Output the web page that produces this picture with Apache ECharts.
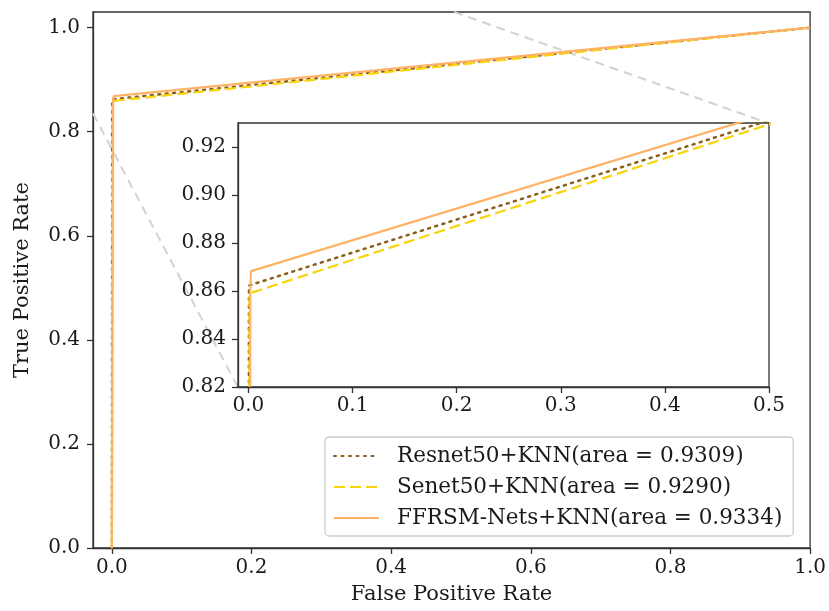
<!DOCTYPE html>
<html>
<head>
<meta charset="utf-8">
<script src="https://cdn.jsdelivr.net/npm/echarts@6/dist/echarts.min.js"></script>
<style>html,body{margin:0;padding:0;background:#fff;}#c{width:829px;height:611px;}</style>
</head>
<body>
<div id="c"></div>
<script>
const seriesNames = ['Resnet50+KNN(area = 0.9309)', 'Senet50+KNN(area = 0.9290)', 'FFRSM-Nets+KNN(area = 0.9334)'];
const fprResnet = [0, 0.0005, 1];
const tprResnet = [0, 0.8623, 1];
const fprSenet = [0, 0.001, 1];
const tprSenet = [0, 0.859, 1];
const fprFfrsm = [0, 0.0018, 0.0025, 1];
const tprFfrsm = [0, 0.86, 0.8683, 1];
const mainXTicks = [0, 0.2, 0.4, 0.6, 0.8, 1.0];
const mainYTicks = [0, 0.2, 0.4, 0.6, 0.8, 1.0];
const insetXTicks = [0, 0.1, 0.2, 0.3, 0.4, 0.5];
const insetYTicks = [0.82, 0.84, 0.86, 0.88, 0.90, 0.92];
// connector lines (main data coords)
const connA = [[-0.027, 0.835], [0.1805, 0.309]];
const connB = [[0.49, 1.03], [0.941, 0.816]];

const FONT = 'DejaVu Serif';
const colors = ['#8B5E1A', '#F7D40C', '#FFB266'];
const styles = [
  {type: [2, 5.5], width: 2.5, cap: 'round'},
  {type: [11, 5], width: 2.2},
  {type: 'solid', width: 2.2}
];
function zip(a, b) { return a.map((v, i) => [v, b[i]]); }
const datasets = [zip(fprResnet, tprResnet), zip(fprSenet, tprSenet), zip(fprFfrsm, tprFfrsm)];

function axisCommon(ticks, dec, margin) {
  return {
    axisLine: {show: true, onZero: false, lineStyle: {color: '#333', width: 1.3}},
    axisTick: {show: true, inside: false, length: 6, customValues: ticks, lineStyle: {color: '#333', width: 1.3}},
    axisLabel: {customValues: ticks, formatter: v => v.toFixed(dec), fontFamily: FONT, fontSize: 20, color: '#1a1a1a', margin: margin},
    splitLine: {show: false}
  };
}

const series = [];
datasets.forEach((d, i) => {
  series.push({
    name: seriesNames[i], type: 'line', data: d, xAxisIndex: 0, yAxisIndex: 0,
    symbol: 'none', color: colors[i], z: 2 + i * 0.1,
    lineStyle: {color: colors[i], type: styles[i].type, width: styles[i].width, cap: styles[i].cap || 'butt'},
    animation: false
  });
});
[connA, connB].forEach(c => {
  series.push({
    type: 'line', data: c, xAxisIndex: 0, yAxisIndex: 0, symbol: 'none', z: 1.5,
    lineStyle: {color: '#d3d3d3', type: [9, 6], width: 2}, animation: false, silent: true
  });
});
datasets.forEach((d, i) => {
  series.push({
    name: seriesNames[i], type: 'line', data: d, xAxisIndex: 1, yAxisIndex: 1,
    symbol: 'none', color: colors[i], z: 12 + i * 0.1, clip: true,
    lineStyle: {color: colors[i], type: styles[i].type, width: styles[i].width, cap: styles[i].cap || 'butt'},
    animation: false
  });
});

const option = {
  backgroundColor: '#fff',
  animation: false,
  grid: [
    {left: 93, top: 12, width: 718, height: 536, show: true, borderColor: '#333', borderWidth: 1.3, backgroundColor: 'transparent'},
    {left: 238, top: 123, width: 531, height: 264, show: true, borderColor: '#333', borderWidth: 1.3, backgroundColor: '#fff', z: 10}
  ],
  xAxis: [
    Object.assign({type: 'value', gridIndex: 0, min: -0.027, max: 1.0,
      name: 'False Positive Rate', nameLocation: 'middle', nameGap: 36,
      nameTextStyle: {fontFamily: FONT, fontSize: 21, color: '#1a1a1a'}}, axisCommon(mainXTicks, 1, 10)),
    Object.assign({type: 'value', gridIndex: 1, min: -0.01, max: 0.5, z: 13}, axisCommon(insetXTicks, 1, 9))
  ],
  yAxis: [
    Object.assign({type: 'value', gridIndex: 0, min: 0, max: 1.03,
      name: 'True Positive Rate', nameLocation: 'middle', nameGap: 60,
      nameTextStyle: {fontFamily: FONT, fontSize: 21, color: '#1a1a1a'}}, axisCommon(mainYTicks, 1, 13)),
    Object.assign({type: 'value', gridIndex: 1, min: 0.82, max: 0.93, z: 13}, axisCommon(insetYTicks, 2, 12))
  ],
  legend: {
    data: seriesNames,
    orient: 'vertical',
    left: 325, top: 437,
    padding: [8, 11, 7, 8],
    itemWidth: 45, itemHeight: 14, itemGap: 9,
    itemStyle: {opacity: 0},
    borderColor: '#ccc', borderWidth: 1.3, borderRadius: 4,
    backgroundColor: 'rgba(255,255,255,0.85)',
    z: 20,
    textStyle: {fontFamily: FONT, fontSize: 21.5, color: '#1a1a1a', padding: [0, 0, 0, 13]}
  },
  series: series
};
const chart = echarts.init(document.getElementById('c'), null, {renderer: 'canvas'});
chart.setOption(option);
</script>
</body>
</html>
